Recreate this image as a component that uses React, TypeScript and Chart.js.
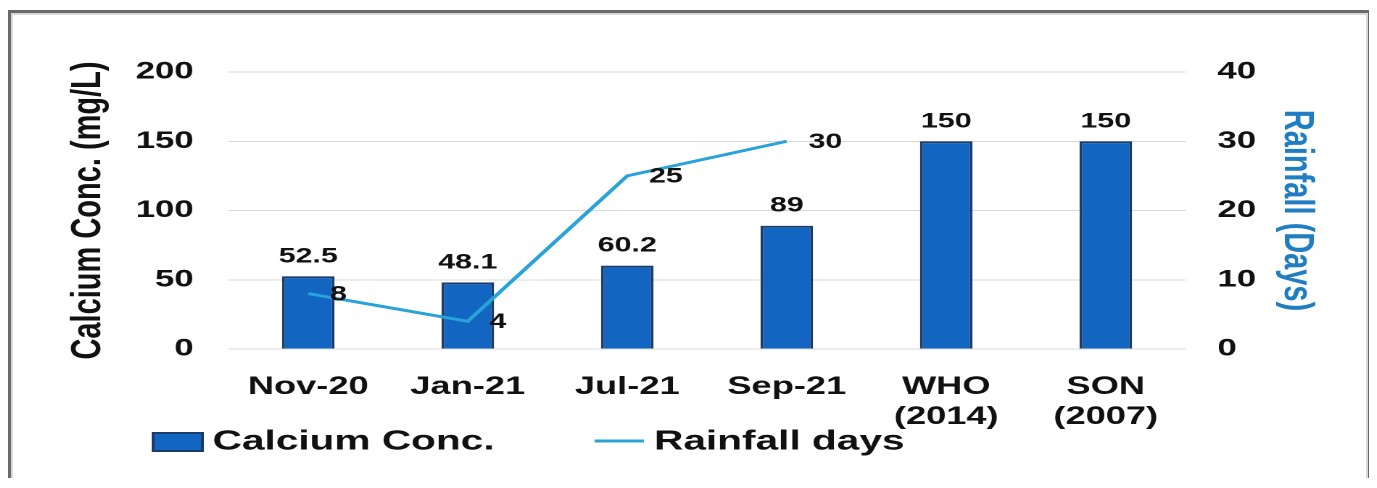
import React, { useEffect, useRef } from 'react';
import { Chart, registerables } from 'chart.js';

Chart.register(...registerables);

// ---- data ----
const categories: string[][] = [['Nov-20'], ['Jan-21'], ['Jul-21'], ['Sep-21'], ['WHO', '(2014)'], ['SON', '(2007)']];
const calciumConc: number[] = [52.5, 48.1, 60.2, 89, 150, 150];
const rainfallDays: (number | null)[] = [8, 4, 25, 30, null, null];
const leftTicks = { min: 0, max: 200, step: 50 };
const rightTicks = { min: 0, max: 40, step: 10 };
const leftTitle = 'Calcium Conc. (mg/L)';
const rightTitle = 'Rainfall (Days)';
const seriesNames = ['Calcium Conc.', 'Rainfall days'];

// ---- layout (the source image is horizontally stretched) ----
const STRETCH = 1.45;
const W = 936;
const H = 467;
const FONT = '"Liberation Sans", Arial, Helvetica, sans-serif';

const valueLabelPlugin = {
  id: 'valueLabels',
  afterDatasetsDraw(chart: any) {
    const ctx = chart.ctx;
    ctx.save();
    ctx.font = `bold 21px ${FONT}`;
    ctx.fillStyle = '#111';
    const barMeta = chart.getDatasetMeta(0);
    barMeta.data.forEach((el: any, i: number) => {
      const v = chart.data.datasets[0].data[i];
      if (v == null) return;
      ctx.textAlign = 'center';
      ctx.textBaseline = 'alphabetic';
      ctx.fillText(String(v), el.x, el.y - 14);
    });
    const lineMeta = chart.getDatasetMeta(1);
    lineMeta.data.forEach((el: any, i: number) => {
      const v = chart.data.datasets[1].data[i];
      if (v == null) return;
      ctx.textAlign = 'left';
      ctx.textBaseline = 'middle';
      ctx.fillText(String(v), el.x + 15, el.y + 1);
    });
    ctx.restore();
  },
};

const bottomLegendPlugin = {
  id: 'bottomLegend',
  afterDraw(chart: any, _args: any, opts: any) {
    const ctx = chart.ctx;
    ctx.save();
    ctx.font = `bold 28px ${FONT}`;
    ctx.textAlign = 'left';
    ctx.textBaseline = 'middle';
    let x = opts.x;
    const y = opts.y;
    chart.data.datasets.forEach((ds: any) => {
      if (ds.type === 'bar') {
        ctx.fillStyle = ds.backgroundColor;
        ctx.fillRect(x, y - 9, 34, 18);
        ctx.strokeStyle = ds.borderColor;
        ctx.lineWidth = 2;
        ctx.strokeRect(x, y - 9, 34, 18);
      } else {
        ctx.strokeStyle = ds.borderColor;
        ctx.lineWidth = 3;
        ctx.beginPath();
        ctx.moveTo(x, y - 1);
        ctx.lineTo(x + 34, y - 1);
        ctx.stroke();
      }
      x += 34 + 7;
      ctx.fillStyle = '#111';
      ctx.fillText(ds.label, x, y);
      x += ctx.measureText(ds.label).width + opts.gap;
    });
    ctx.restore();
  },
};

export default function App() {
  const ref = useRef<HTMLCanvasElement>(null);

  useEffect(() => {
    if (!ref.current) return;
    Chart.defaults.font.family = FONT;
    const tickFont = { family: FONT, size: 24, weight: 'bold' as const };
    const chart = new Chart(ref.current, {
      type: 'bar',
      data: {
        labels: categories,
        datasets: [
          {
            type: 'bar',
            label: seriesNames[0],
            data: calciumConc,
            backgroundColor: '#1265c0',
            borderColor: '#1b3c6b',
            borderWidth: 2,
            categoryPercentage: 1,
            barPercentage: 0.33,
            yAxisID: 'y',
            order: 2,
          } as any,
          {
            type: 'line',
            label: seriesNames[1],
            data: rainfallDays,
            borderColor: '#28a2d9',
            borderWidth: 3,
            pointRadius: 0,
            tension: 0,
            spanGaps: false,
            yAxisID: 'y1',
            order: 1,
          } as any,
        ],
      },
      options: {
        responsive: false,
        animation: false,
        devicePixelRatio: 2,
        layout: { padding: { top: 59, left: 0, right: 0, bottom: 0 } },
        plugins: {
          legend: { display: false },
          tooltip: { enabled: false },
          bottomLegend: { x: 98, y: 429, gap: 69 },
        } as any,
        scales: {
          x: {
            grid: { display: false },
            border: { display: false },
            ticks: {
              color: '#111',
              font: { family: FONT, size: 25, weight: 'bold' },
              padding: 15,
              maxRotation: 0,
              autoSkip: false,
            },
            afterFit: (s: any) => {
              s.height = H - 336;
            },
          },
          y: {
            position: 'left',
            min: leftTicks.min,
            max: leftTicks.max,
            ticks: { stepSize: leftTicks.step, padding: 24, color: '#111', font: tickFont },
            grid: { color: '#d9d9d9', lineWidth: 1, drawTicks: false },
            border: { display: false },
            title: {
              display: true,
              text: leftTitle,
              color: '#111',
              font: { family: FONT, size: 29, weight: 'bold' },
              padding: { top: 36, bottom: 0 },
            },
            afterFit: (s: any) => {
              s.width = 150;
            },
          },
          y1: {
            position: 'right',
            min: rightTicks.min,
            max: rightTicks.max,
            ticks: { stepSize: rightTicks.step, padding: 22, color: '#111', font: tickFont },
            grid: { display: false, drawTicks: false },
            border: { display: false },
            title: {
              display: true,
              text: rightTitle,
              color: '#1f7dc1',
              font: { family: FONT, size: 29, weight: 'bold' },
              padding: { top: 32, bottom: 0 },
            },
            afterFit: (s: any) => {
              s.width = 126;
            },
          },
        },
      } as any,
      plugins: [valueLabelPlugin, bottomLegendPlugin],
    });
    return () => chart.destroy();
  }, []);

  return (
    <div
      style={{
        position: 'relative',
        top: 2,
        width: 1363,
        height: 470,
        boxSizing: 'border-box',
        border: '3px solid #6a6a6a',
        borderBottom: 'none',
        boxShadow: 'inset 2px 2px 0 #d8d8d8, inset -2px 0 0 #d8d8d8',
        background: '#fff',
        overflow: 'hidden',
      }}
    >
      <div style={{ width: W, height: H, transform: `scaleX(${STRETCH})`, transformOrigin: '0 0' }}>
        <canvas ref={ref} width={W} height={H} style={{ display: 'block', width: W, height: H }} />
      </div>
    </div>
  );
}
